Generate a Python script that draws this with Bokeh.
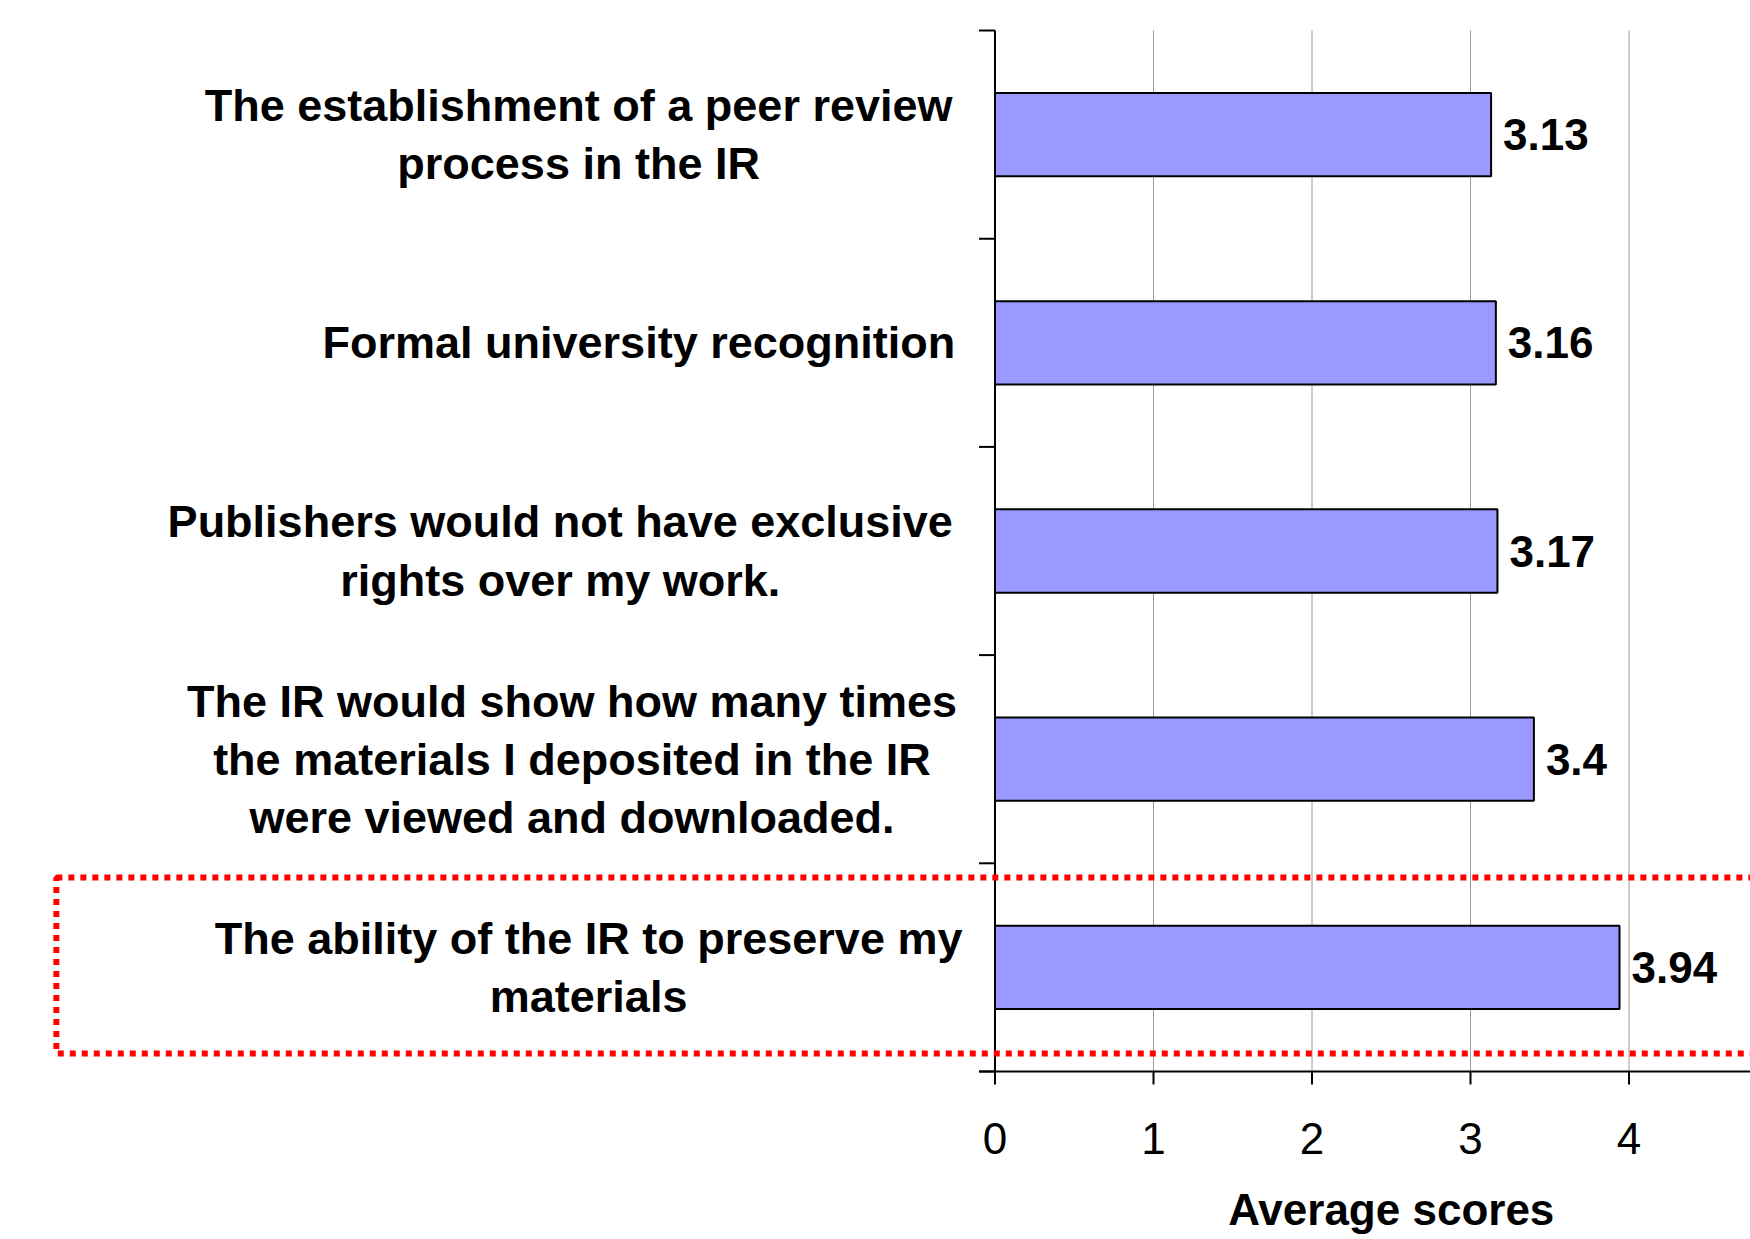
from bokeh.plotting import figure
from bokeh.models import ColumnDataSource, Range1d, BoxAnnotation
from bokeh.core.properties import value
from bokeh.embed import file_html
from bokeh.resources import INLINE

# ---- data ----
categories = [
    "The establishment of a peer review\nprocess in the IR",
    "Formal university recognition",
    "Publishers would not have exclusive\nrights over my work.",
    "The IR would show how many times\nthe materials I deposited in the IR\nwere viewed and downloaded.",
    "The ability of the IR to preserve my\nmaterials",
]
scores = [3.13, 3.16, 3.17, 3.4, 3.94]
x_ticks = [0, 1, 2, 3, 4]
x_title = "Average scores"
highlight_index = 4

# ---- layout / style (not data) ----
label_centers = [-2.627, -2.247, -2.743, -2.669, -2.564]
FONT = "Liberation Sans"
W, H = 1750, 1239
X0_PX, UNIT_PX = 994.5, 158.5      # screen position of x=0 and px per unit
TOP_PX, BAND_PX = 30.0, 208.2      # screen position of axis top, px per category
YTICK_LEN = 16 / UNIT_PX
XTICK_LEN = 13 / BAND_PX
X_MAX_AXIS = 5.0                   # axis runs off the right edge

n = len(categories)
ys = [i + 0.5 for i in range(n)]

p = figure(output_backend="svg", toolbar_location=None,
           width=W, height=H, min_border=0,
           x_axis_location=None, y_axis_location=None,
           x_range=Range1d(-X0_PX / UNIT_PX, (W - X0_PX) / UNIT_PX),
           y_range=Range1d((H - TOP_PX) / BAND_PX, -TOP_PX / BAND_PX))
p.outline_line_color = None
p.background_fill_color = "white"
p.border_fill_color = "white"
p.grid.visible = False

# vertical grid lines (within the plot area only)
p.segment(x0=x_ticks[1:], x1=x_ticks[1:], y0=[0] * (len(x_ticks) - 1),
          y1=[n] * (len(x_ticks) - 1), line_color="#9a9a9a", line_width=1)

# bars
src = ColumnDataSource(dict(y=ys, score=scores,
                            txt=[("%g" % s) for s in scores]))
p.hbar(y="y", left=0, right="score", height=0.4, source=src,
       fill_color="#9999FF", line_color="black", line_width=2)

# value labels
p.text(x="score", y="y", text="txt", source=src, x_offset=12,
       text_baseline="middle", text_align="left",
       text_font=value(FONT), text_font_style="bold",
       text_font_size="44px", text_color="black")

# y axis: line + ticks at category boundaries
p.segment(x0=[0], x1=[0], y0=[0], y1=[n], line_color="black", line_width=2)
bounds = list(range(n + 1))
p.segment(x0=[-YTICK_LEN] * len(bounds), x1=[0] * len(bounds),
          y0=bounds, y1=bounds, line_color="black", line_width=2)

# x axis: line + ticks + labels
p.segment(x0=[-YTICK_LEN], x1=[X_MAX_AXIS], y0=[n], y1=[n],
          line_color="black", line_width=2)
p.segment(x0=x_ticks, x1=x_ticks, y0=[n] * len(x_ticks),
          y1=[n + XTICK_LEN] * len(x_ticks), line_color="black", line_width=2)
p.text(x=x_ticks, y=[n] * len(x_ticks), text=[str(t) for t in x_ticks],
       y_offset=67, text_align="center", text_baseline="middle",
       text_font=value(FONT), text_font_size="44px", text_color="black")

# axis title (centred under 0..5)
p.text(x=[X_MAX_AXIS / 2], y=[n], text=[x_title], y_offset=138,
       text_align="center", text_baseline="alphabetic",
       text_font=value(FONT), text_font_style="bold",
       text_font_size="44px", text_color="black")

# category labels
p.text(x=label_centers, y=ys, text=categories,
       text_align="center", text_baseline="middle",
       text_font=value(FONT), text_font_style="bold",
       text_font_size="45px", text_color="black", text_line_height=1.14)

# highlight box
hy = ys[highlight_index]
p.add_layout(BoxAnnotation(left=-5.922, right=X_MAX_AXIS + 1,
                           top=hy - 0.432, bottom=hy + 0.414,
                           fill_color=None, fill_alpha=0,
                           line_color="red", line_alpha=1, line_width=6,
                           line_dash="6 6"))

open("out.html", "w").write(file_html(p, INLINE))
